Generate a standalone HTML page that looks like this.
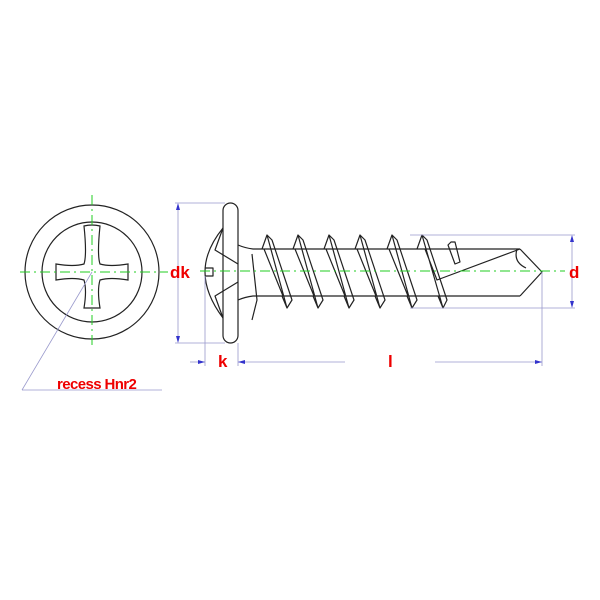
<!DOCTYPE html>
<html><head><style>body{margin:0;background:#fff}svg{display:block}</style></head><body>
<svg width="600" height="600" viewBox="0 0 600 600" xmlns="http://www.w3.org/2000/svg" font-family="Liberation Sans, sans-serif">
<rect width="600" height="600" fill="#fff"/>
<g fill="none" stroke="#222" stroke-width="1.2">
<circle cx="92" cy="272" r="67"/>
<circle cx="92" cy="272" r="50"/>
<path d="M84,226 Q92,224 100,226 Q97,255 100,264 Q110,267 128,264 L128,280 Q110,277 100,280 Q97,290 100,308 L84,308 Q87,290 84,280 Q74,277 56,280 L56,264 Q74,267 84,264 Q87,255 84,226 Z"/>
</g>
<g stroke="#2c2" stroke-width="1" stroke-dasharray="10,4,2,4" fill="none">
<line x1="20" y1="272" x2="168" y2="272"/>
<line x1="92" y1="195" x2="92" y2="348"/>
</g>
<g stroke="#99c" stroke-width="0.8" fill="none">
<line x1="92" y1="272" x2="22" y2="390"/>
<line x1="22" y1="390" x2="162" y2="390"/>
</g>
<text x="57" y="389" fill="#e00" font-weight="bold" font-size="15" letter-spacing="-0.6">recess Hnr2</text>
<g fill="none" stroke="#222" stroke-width="1.2" stroke-linejoin="round">
<rect x="223" y="203" width="15" height="140" rx="7.5"/>
<path d="M223,228 Q205,250 205,272 Q205,294 223,318"/>
<path d="M223,228 L215,250 L238,264 M223,318 L215,296 L238,282 M205,268 L213,268 L213,276 L205,276"/>
<path d="M238,245 Q245,248 253,249 L520,249 M238,300 Q245,297 253,296 L520,296"/>
<path d="M252,254 L257,300 L252,320"/>
<g id="th">
<path d="M262,249 L267,235 L272,240 L292,300 L287,308 L282,296 M267,235 L287,308 M264,249 L283,296"/>
</g>
<use href="#th" x="31"/><use href="#th" x="62"/><use href="#th" x="93"/><use href="#th" x="125"/>
<path d="M417,249 L422,235 L427,240 L447,300 L443,308 L438,296 M422,235 L443,308 M425,249 L437,280 L520,249"/>
<path d="M448,245 L451,242 L455,242 L460,262 L455,264 Z M520,249 L542,272 L520,296 M517,249 Q513,262 526,268"/>
</g>
<g stroke="#2c2" stroke-width="1" stroke-dasharray="10,4,2,4" fill="none">
<line x1="200" y1="271" x2="565" y2="271"/>
</g>
<g stroke="#99c" stroke-width="0.8" fill="none">
<line x1="175" y1="203" x2="225" y2="203"/>
<line x1="175" y1="343" x2="225" y2="343"/>
<line x1="178" y1="205" x2="178" y2="341"/>
<line x1="410" y1="235" x2="575" y2="235"/>
<line x1="410" y1="308" x2="575" y2="308"/>
<line x1="572" y1="237" x2="572" y2="306"/>
<line x1="205" y1="276" x2="205" y2="366"/>
<line x1="238" y1="343" x2="238" y2="366"/>
<line x1="542" y1="272" x2="542" y2="366"/>
<line x1="190" y1="362" x2="205" y2="362"/>
<line x1="238" y1="362" x2="345" y2="362"/>
<line x1="435" y1="362" x2="542" y2="362"/>
</g>
<g fill="#33c">
<path d="M178,203 L176,210 L180,210Z M178,343 L176,336 L180,336Z M572,235 L570,242 L574,242Z M572,308 L570,301 L574,301Z M205,362 L198,360 L198,364Z M238,362 L245,360 L245,364Z M542,362 L535,360 L535,364Z"/>
</g>
<g fill="#e00" font-weight="bold" font-size="17">
<text x="170" y="278">dk</text>
<text x="569" y="278">d</text>
<text x="218" y="367">k</text>
<text x="388" y="367">l</text>
</g>
</svg>
</body></html>
